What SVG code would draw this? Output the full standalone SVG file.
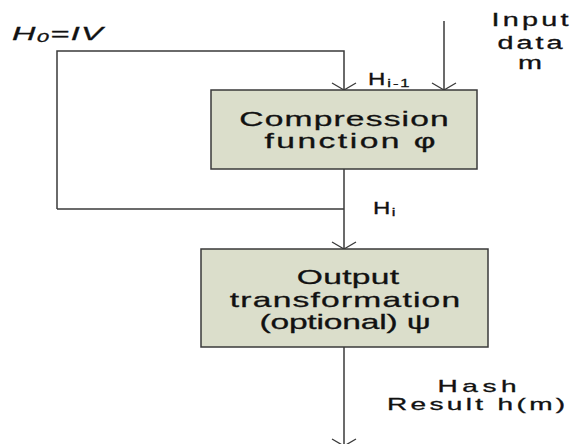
<svg xmlns="http://www.w3.org/2000/svg" width="574" height="444" viewBox="0 0 574 444">
<style>
.ln{fill:none;stroke:#3a3a3a;stroke-width:1.5}
.box{fill:#dbdecb;stroke:#3a3a3a;stroke-width:1.5}
text{font-family:"Liberation Sans",Arial,sans-serif;fill:#111;stroke:#111;stroke-width:0.3}
.bt{font-size:21px}
.lb{font-size:18px}
.hs{font-size:16px}
</style>
<defs>
<marker id="v" markerUnits="userSpaceOnUse" markerWidth="30" markerHeight="30" refX="0" refY="0" viewBox="-15 -15 30 30" orient="auto" overflow="visible">
<path d="M-7,-12 L0,0 L-7,12" fill="none" stroke="#3a3a3a" stroke-width="1.3"/>
</marker>
</defs>
<rect width="574" height="444" fill="#fff"/>
<g id="connectors">
<polyline class="ln" points="57,209 57,51 344,51 344,90" marker-end="url(#v)"/>
<line class="ln" x1="444" y1="21" x2="444" y2="90" marker-end="url(#v)"/>
<line class="ln" x1="57" y1="209" x2="344" y2="209"/>
<line class="ln" x1="344" y1="169" x2="344" y2="249" marker-end="url(#v)"/>
<line class="ln" x1="344" y1="347" x2="344" y2="446" marker-end="url(#v)"/>
</g>
<g id="compression">
<rect class="box" x="211" y="90" width="266" height="79"/>
<text class="bt" transform="translate(344,126) scale(1.6,1)" text-anchor="middle" textLength="131" lengthAdjust="spacing">Compression</text>
<text class="bt" transform="translate(350,148) scale(1.6,1)" text-anchor="middle" textLength="107" lengthAdjust="spacing">function φ</text>
</g>
<g id="output">
<rect class="box" x="201" y="249" width="287" height="98"/>
<text class="bt" transform="translate(348,284) scale(1.6,1)" text-anchor="middle" textLength="64" lengthAdjust="spacing">Output</text>
<text class="bt" transform="translate(345,307) scale(1.6,1)" text-anchor="middle" textLength="144" lengthAdjust="spacing">transformation</text>
<text class="bt" transform="translate(345,329) scale(1.6,1)" text-anchor="middle" textLength="107" lengthAdjust="spacing">(optional) ψ</text>
</g>
<g id="iv-label">
<text class="lb" transform="translate(12,40) scale(1.8,1)" font-style="italic" letter-spacing="0.8">H<tspan font-size="12" dy="2">0</tspan><tspan dy="-2">=IV</tspan></text>
</g>
<g id="input-label">
<text class="lb" transform="translate(530,26) scale(1.6,1)" text-anchor="middle" textLength="48" lengthAdjust="spacing">Input</text>
<text class="lb" transform="translate(530,49) scale(1.6,1)" text-anchor="middle" textLength="40.5" lengthAdjust="spacing">data</text>
<text class="lb" transform="translate(530,69) scale(1.6,1)" text-anchor="middle">m</text>
</g>
<g id="hi1-label">
<text class="hs" transform="translate(368,85) scale(1.5,1)" letter-spacing="1.3">H<tspan font-size="11" dy="2">i-1</tspan></text>
</g>
<g id="hi-label">
<text class="hs" transform="translate(373,214) scale(1.5,1)" letter-spacing="1">H<tspan font-size="11" dy="2">i</tspan></text>
</g>
<g id="hash-label">
<text transform="translate(477,392) scale(1.65,1)" font-size="17" text-anchor="middle" textLength="48" lengthAdjust="spacing">Hash</text>
<text transform="translate(387,410) scale(1.65,1)" font-size="17" textLength="108" lengthAdjust="spacing">Result h(m)</text>
</g>
</svg>
